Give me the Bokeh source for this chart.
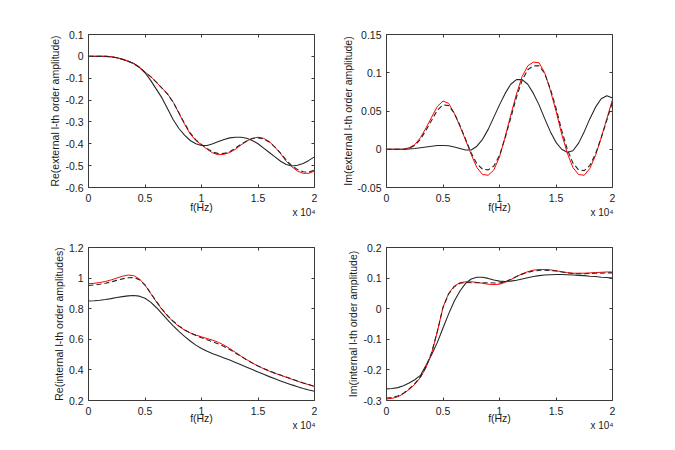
from bokeh.plotting import figure
from bokeh.models import Range1d, FixedTicker, LinearAxis
from bokeh.layouts import column, row
from bokeh.embed import file_html
from bokeh.resources import INLINE

# ---------------- data ----------------
freq = [0, 500, 1000, 1500, 2000, 2500, 3000, 3500, 4000, 4500,
        5000, 5500, 6000, 6500, 7000, 7500, 8000, 8500, 9000, 9500,
        10000, 10500, 11000, 11500, 12000, 12500, 13000, 13500, 14000, 14500,
        15000, 15500, 16000, 16500, 17000, 17500, 18000, 18500, 19000, 19500, 20000]

# Re(external)
re_ext_solid = [0, 0, 0, 0, -0.002, -0.006, -0.013, -0.022, -0.033, -0.05,
                -0.075, -0.11, -0.15, -0.19, -0.24, -0.29, -0.33, -0.36, -0.385, -0.40,
                -0.408, -0.408, -0.40, -0.39, -0.38, -0.373, -0.37, -0.37, -0.375, -0.385,
                -0.40, -0.42, -0.44, -0.46, -0.48, -0.495, -0.502, -0.498, -0.49, -0.476, -0.46]
re_ext_red = [0, 0, 0, 0, -0.002, -0.006, -0.013, -0.022, -0.033, -0.05,
              -0.072, -0.092, -0.118, -0.145, -0.172, -0.21, -0.26, -0.31, -0.355, -0.385,
              -0.405, -0.425, -0.442, -0.45, -0.448, -0.44, -0.425, -0.405, -0.388, -0.375,
              -0.37, -0.375, -0.39, -0.415, -0.445, -0.48, -0.505, -0.525, -0.535, -0.535, -0.525]
re_ext_dash = [0, 0, 0, 0, -0.002, -0.006, -0.013, -0.022, -0.033, -0.05,
               -0.072, -0.093, -0.118, -0.145, -0.173, -0.21, -0.258, -0.307, -0.35, -0.382,
               -0.403, -0.422, -0.438, -0.445, -0.444, -0.436, -0.42, -0.402, -0.387, -0.376,
               -0.373, -0.378, -0.392, -0.415, -0.443, -0.475, -0.5, -0.518, -0.528, -0.53, -0.52]

# Im(external)
im_ext_solid = [0, 0, 0, 0, 0.0005, 0.001, 0.002, 0.003, 0.004, 0.005,
                0.005, 0.0045, 0.003, 0.001, -0.001, -0.001, 0.004, 0.013, 0.026, 0.042,
                0.058, 0.073, 0.085, 0.091, 0.091, 0.085, 0.073, 0.058, 0.04, 0.023,
                0.009, 0.0, -0.004, -0.002, 0.008, 0.023, 0.04, 0.055, 0.066, 0.07, 0.067]
im_ext_red = [0, 0, 0, 0, 0.002, 0.006, 0.015, 0.028, 0.042, 0.056,
              0.063, 0.06, 0.047, 0.03, 0.012, -0.007, -0.024, -0.033, -0.034, -0.027,
              -0.01, 0.016, 0.045, 0.072, 0.095, 0.109, 0.114, 0.113, 0.1, 0.077,
              0.05, 0.02, -0.005, -0.024, -0.033, -0.034, -0.025, -0.008, 0.015, 0.04, 0.065]
im_ext_dash = [0, 0, 0, 0, 0.001, 0.005, 0.013, 0.025, 0.038, 0.051,
               0.058, 0.057, 0.047, 0.031, 0.013, -0.005, -0.019, -0.026, -0.027, -0.022,
               -0.008, 0.015, 0.041, 0.068, 0.09, 0.104, 0.109, 0.109, 0.099, 0.079,
               0.054, 0.025, 0.0, -0.018, -0.027, -0.028, -0.021, -0.006, 0.015, 0.038, 0.062]

# Re(internal)
re_int_solid = [0.85, 0.852, 0.855, 0.86, 0.866, 0.873, 0.879, 0.884, 0.886, 0.882,
                0.868, 0.843, 0.808, 0.768, 0.727, 0.688, 0.652, 0.619, 0.589, 0.562,
                0.54, 0.522, 0.506, 0.492, 0.478, 0.464, 0.449, 0.434, 0.418, 0.402,
                0.386, 0.371, 0.356, 0.342, 0.328, 0.315, 0.302, 0.29, 0.279, 0.269, 0.26]
re_int_red = [0.963, 0.966, 0.971, 0.978, 0.988, 1.0, 1.012, 1.02, 1.016, 0.995,
              0.955, 0.9, 0.845, 0.795, 0.752, 0.715, 0.685, 0.66, 0.642, 0.628,
              0.616, 0.605, 0.594, 0.58, 0.562, 0.54, 0.515, 0.49, 0.467, 0.445,
              0.425, 0.408, 0.392, 0.378, 0.365, 0.352, 0.339, 0.326, 0.314, 0.303, 0.292]
re_int_dash = [0.952, 0.955, 0.96, 0.966, 0.975, 0.985, 0.995, 1.002, 1.003, 0.99,
               0.955, 0.902, 0.848, 0.798, 0.755, 0.718, 0.688, 0.662, 0.642, 0.625,
               0.61, 0.597, 0.584, 0.57, 0.553, 0.533, 0.511, 0.488, 0.466, 0.445,
               0.426, 0.409, 0.393, 0.379, 0.366, 0.353, 0.34, 0.327, 0.315, 0.304, 0.293]

# Im(internal)
im_int_solid = [-0.262, -0.261, -0.258, -0.252, -0.243, -0.232, -0.218, -0.185, -0.15, -0.11,
                -0.063, -0.017, 0.025, 0.058, 0.083, 0.097, 0.103, 0.103, 0.099, 0.094,
                0.09, 0.089, 0.09, 0.093, 0.097, 0.101, 0.105, 0.108, 0.11, 0.111,
                0.112, 0.112, 0.111, 0.11, 0.109, 0.108, 0.106, 0.105, 0.103, 0.102, 0.1]
im_int_red = [-0.295, -0.293, -0.288, -0.278, -0.264, -0.247, -0.225, -0.192, -0.145, -0.075,
              0.005, 0.05, 0.074, 0.085, 0.088, 0.088, 0.086, 0.083, 0.08, 0.079,
              0.08, 0.086, 0.095, 0.105, 0.114, 0.121, 0.126, 0.128, 0.128, 0.127,
              0.124, 0.121, 0.118, 0.116, 0.116, 0.116, 0.117, 0.118, 0.119, 0.12, 0.12]
im_int_dash = [-0.292, -0.29, -0.285, -0.276, -0.262, -0.245, -0.223, -0.19, -0.143, -0.074,
               0.004, 0.048, 0.072, 0.083, 0.086, 0.085, 0.085, 0.085, 0.085, 0.084,
               0.084, 0.088, 0.096, 0.105, 0.113, 0.119, 0.123, 0.125, 0.126, 0.125,
               0.123, 0.12, 0.117, 0.115, 0.114, 0.114, 0.115, 0.116, 0.116, 0.117, 0.117]

x_ticks = [0, 5000, 10000, 15000, 20000]
x_tick_labels = ["0", "0.5", "1", "1.5", "2"]
x_exponent = "x 10\u2074"
x_exponent_at = 19070   # centre of the "x 10^4" multiplier, just inside the right edge

y_ticks_re_ext = [0.1, 0, -0.1, -0.2, -0.3, -0.4, -0.5, -0.6]
y_labels_re_ext = ["0.1", "0", "-0.1", "-0.2", "-0.3", "-0.4", "-0.5", "-0.6"]
y_ticks_im_ext = [0.15, 0.1, 0.05, 0, -0.05]
y_labels_im_ext = ["0.15", "0.1", "0.05", "0", "-0.05"]
y_ticks_re_int = [1.2, 1, 0.8, 0.6, 0.4, 0.2]
y_labels_re_int = ["1.2", "1", "0.8", "0.6", "0.4", "0.2"]
y_ticks_im_int = [0.2, 0.1, 0, -0.1, -0.2, -0.3]
y_labels_im_int = ["0.2", "0.1", "0", "-0.1", "-0.2", "-0.3"]

FONT = "Liberation Sans"
FS = "10.5px"
TXT = "#1a1a1a"
AX = "#3a3a3a"


def box_axis(ticks):
    return LinearAxis(ticker=FixedTicker(ticks=ticks), axis_line_color=None,
                      major_tick_in=3, major_tick_out=0, minor_tick_line_color=None,
                      major_tick_line_color=AX, major_label_text_font_size="1px",
                      major_label_text_color=None, major_label_standoff=0)


def make_panel(width, height, left, right, top, bottom, yr, yticks, ylabels,
               ylabel, solid, red, dash, xlab_standoff, exp_standoff):
    p = figure(width=width, height=height, output_backend="svg", toolbar_location=None,
               x_range=Range1d(0, 20000), y_range=Range1d(*yr),
               min_border_left=left, min_border_right=right,
               min_border_top=top, min_border_bottom=bottom)
    p.grid.visible = False
    p.outline_line_color = AX
    p.outline_line_width = 1
    p.background_fill_color = "white"
    p.border_fill_color = "white"

    p.line(freq, solid, line_color="#262626", line_width=1.1)
    p.line(freq, red, line_color="#ff0000", line_width=1.0)
    p.line(freq, dash, line_color="#262626", line_width=1.1, line_dash="5 3")

    for ax in (p.xaxis[0], p.yaxis[0]):
        ax.axis_line_color = None
        ax.major_tick_in = 3
        ax.major_tick_out = 0
        ax.major_tick_line_color = AX
        ax.minor_tick_line_color = None
        ax.major_label_text_font = FONT
        ax.major_label_text_font_size = FS
        ax.major_label_text_color = TXT
        ax.axis_label_text_font = FONT
        ax.axis_label_text_font_size = FS
        ax.axis_label_text_font_style = "normal"
        ax.axis_label_text_color = TXT

    p.xaxis.ticker = FixedTicker(ticks=x_ticks)
    p.xaxis.major_label_overrides = dict(zip(x_ticks, x_tick_labels))
    p.xaxis.axis_label = "f(Hz)"
    p.xaxis.major_label_standoff = 6
    p.xaxis.axis_label_standoff = xlab_standoff

    p.yaxis.ticker = FixedTicker(ticks=yticks)
    p.yaxis.major_label_overrides = dict(zip(yticks, ylabels))
    p.yaxis.axis_label = ylabel
    p.yaxis.major_label_standoff = 5
    p.yaxis.axis_label_standoff = 1

    p.add_layout(box_axis(yticks), "right")
    p.add_layout(box_axis(x_ticks), "above")

    # multiplier "x 10^4" shown as a second, tickless axis under the first one
    ex = LinearAxis(ticker=FixedTicker(ticks=[x_exponent_at]),
                    major_label_overrides={x_exponent_at: x_exponent},
                    axis_line_color=None, major_tick_line_color=None,
                    minor_tick_line_color=None, major_tick_in=0, major_tick_out=0,
                    major_label_standoff=exp_standoff,
                    major_label_text_font=FONT, major_label_text_font_size="10px",
                    major_label_text_color=TXT)
    p.add_layout(ex, "below")
    return p


p1 = make_panel(338, 228, 88, 24, 34, 41, (-0.6, 0.1), y_ticks_re_ext, y_labels_re_ext,
                "Re(external l-th order amplitude)", re_ext_solid, re_ext_red, re_ext_dash, -4, -9)
p2 = make_panel(329, 228, 48, 55, 34, 41, (-0.05, 0.15), y_ticks_im_ext, y_labels_im_ext,
                "Im(external l-th order amplitude)", im_ext_solid, im_ext_red, im_ext_dash, -4, -9)
p3 = make_panel(338, 214, 88, 24, 19, 42, (0.2, 1.2), y_ticks_re_int, y_labels_re_int,
                "Re(internal l-th order amplitudes)", re_int_solid, re_int_red, re_int_dash, -6, -7)
p4 = make_panel(329, 214, 48, 55, 19, 42, (-0.3, 0.2), y_ticks_im_int, y_labels_im_int,
                "Im(internal l-th order amplitude)", im_int_solid, im_int_red, im_int_dash, -6, -7)

layout = column(row(p1, p2, spacing=0), row(p3, p4, spacing=0), spacing=0)

open("out.html", "w").write(file_html(layout, INLINE))
